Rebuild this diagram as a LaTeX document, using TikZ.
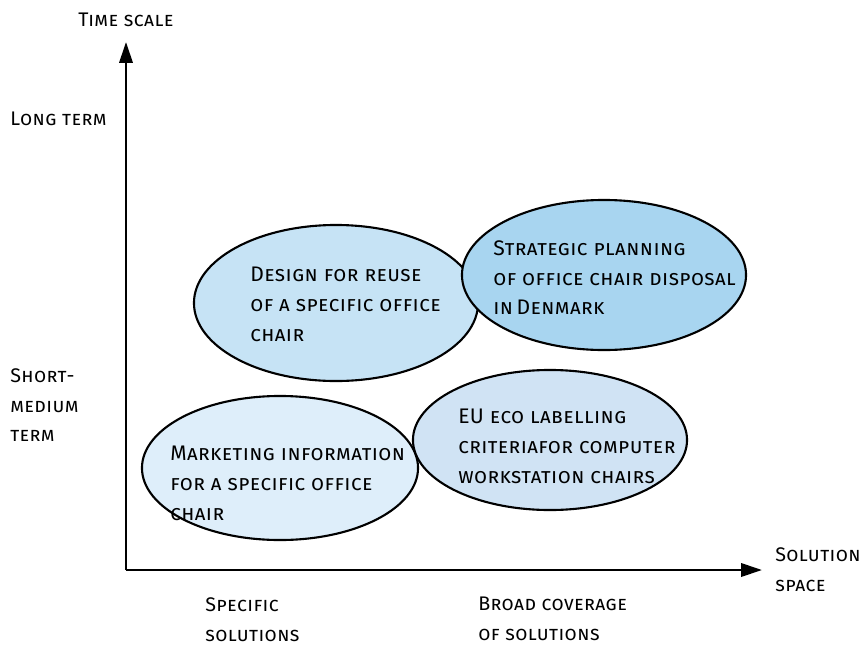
\documentclass[tikz,border=0pt]{standalone}
\usepackage{fontspec}
\setmainfont{Fira Sans}[LetterSpace=2]
\usetikzlibrary{arrows.meta,shapes.geometric}

\definecolor{designblue}{HTML}{C6E3F5}
\definecolor{strategyblue}{HTML}{A8D5F0}
\definecolor{marketblue}{HTML}{DEEEFA}
\definecolor{ecoblue}{HTML}{D0E3F4}

\begin{document}
\begin{tikzpicture}[x=0.025cm, y=-0.025cm,
  axis/.style={line width=1.9pt, -{Triangle[length=5.2mm, width=3.3mm]}},
  bubble/.style={draw, ellipse, line width=1.5pt, inner sep=0pt},
  bubbletext/.style={anchor=north west, inner sep=0pt, align=left, font=\scshape\fontsize{15}{21.3}\selectfont},
  axislabel/.style={inner sep=0pt, align=left, font=\scshape\fontsize{14}{21.3}\selectfont}]
\useasboundingbox (0,0) rectangle (862,671);
% axes
\coordinate (origin) at (126,570);
\coordinate (ytip) at (126,42);
\coordinate (xtip) at (762,570);
\draw[axis] (origin) -- (ytip);
\draw[axis] (origin) -- (xtip);
\node[axislabel, anchor=north] (timescale) at (126,13) {Time scale};
\node[axislabel, anchor=north west] (longterm) at (10,112) {Long term};
\node[axislabel, anchor=north west] (shortterm) at (10,368) {Short-\\medium\\term};
\node[axislabel, anchor=north west] (solspace) at (775,547) {Solution\\space};
\node[axislabel, anchor=north west] (specific) at (205,597) {Specific\\solutions};
\node[axislabel, anchor=north west] (broad) at (478,597) {Broad coverage\\of solutions};
% bubbles
\node[bubble, fill=designblue, minimum width=7.1cm, minimum height=3.9cm] (design) at (336,303) {};
\node[bubble, fill=strategyblue, minimum width=7.1cm, minimum height=3.75cm] (strategy) at (604,275) {};
\node[bubble, fill=marketblue, minimum width=6.9cm, minimum height=3.6cm] (market) at (280,468) {};
\node[bubble, fill=ecoblue, minimum width=6.85cm, minimum height=3.5cm] (eco) at (550,440) {};
\node[bubbletext] (designtext) at (250,267) {Design for reuse\\of a specific office\\chair};
\node[bubbletext] (strategytext) at (493,240) {Strategic planning\\of office chair disposal\\in\,Denmark};
\node[bubbletext] (markettext) at (170,446) {Marketing information\\for a specific office\\chair};
\node[bubbletext] (ecotext) at (458,409) {EU eco labelling\\criteriafor computer\\workstation chairs};
\end{tikzpicture}
\end{document}
